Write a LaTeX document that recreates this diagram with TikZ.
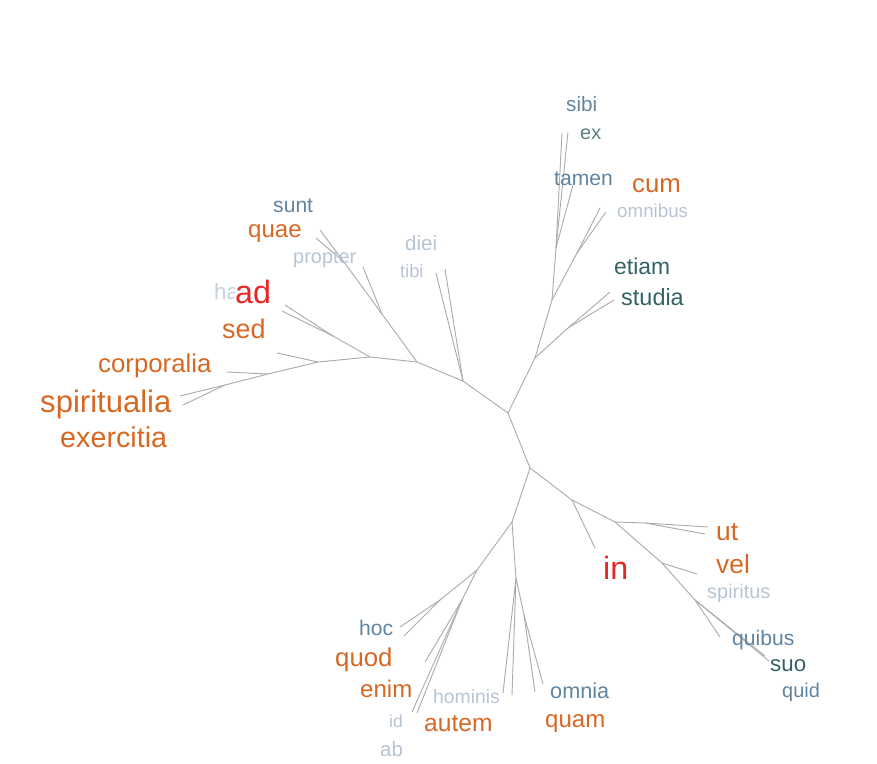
\documentclass[tikz,border=0pt]{standalone}
\usepackage{fontspec}
\setmainfont{Liberation Sans}
\definecolor{wordorange}{RGB}{214,104,36}
\definecolor{wordred}{RGB}{232,38,38}
\definecolor{wordblue}{RGB}{96,132,160}
\definecolor{wordteal}{RGB}{52,98,100}
\definecolor{wordpale}{RGB}{182,196,212}
\definecolor{branch}{RGB}{172,172,172}
\newcommand\wsize[1]{\fontsize{#1pt}{#1pt}\selectfont}
\tikzset{
  word/.style={anchor=base west, inner sep=0pt},
  twig/.style={draw=branch, line width=0.8pt}
}
\begin{document}
\begin{tikzpicture}[x=0.03cm,y=-0.03cm]
\useasboundingbox (0,0) rectangle (877,764);
\coordinate (c1) at (508,413);
\coordinate (c2) at (530,468);
\coordinate (a1) at (463,381);
\coordinate (a2) at (417,362);
\coordinate (a3) at (370,357);
\coordinate (a4) at (318,362);
\coordinate (a5) at (268,374);
\coordinate (a6) at (225,385);
\coordinate (b1) at (382,314);
\coordinate (b2) at (344,262);
\coordinate (b3) at (333,336);
\coordinate (d1) at (535,358);
\coordinate (d2) at (552,300);
\coordinate (d3) at (556,248);
\coordinate (d4) at (568,328);
\coordinate (d5) at (577,253);
\coordinate (e1) at (572,500);
\coordinate (e2) at (615,522);
\coordinate (e3) at (662,563);
\coordinate (e4) at (695,600);
\coordinate (e5) at (645,523);
\coordinate (f1) at (512,522);
\coordinate (f2) at (477,570);
\coordinate (f3) at (462,600);
\coordinate (f4) at (440,600);
\coordinate (f5) at (516,578);
\coordinate (f6) at (524,615);
\coordinate (sp1) at (180,396);
\coordinate (sp2) at (183,405);
\coordinate (co1) at (227,372);
\coordinate (se1) at (277,353);
\coordinate (ad1) at (285,305);
\coordinate (ad2) at (282,311);
\coordinate (pr1) at (363,267);
\coordinate (qu1) at (320,230);
\coordinate (qu2) at (316,238);
\coordinate (ti1) at (436,273);
\coordinate (ti2) at (445,269);
\coordinate (st1) at (610,292);
\coordinate (st2) at (614,300);
\coordinate (om1) at (600,208);
\coordinate (om2) at (606,212);
\coordinate (ta1) at (573,185);
\coordinate (si1) at (562,133);
\coordinate (si2) at (568,132);
\coordinate (in1) at (595,548);
\coordinate (ut1) at (708,527);
\coordinate (ut2) at (705,534);
\coordinate (sr1) at (697,574);
\coordinate (qb1) at (720,637);
\coordinate (su1) at (765,656);
\coordinate (su2) at (769,661);
\coordinate (ho1) at (400,627);
\coordinate (ho2) at (404,636);
\coordinate (en1) at (425,662);
\coordinate (id1) at (412,712);
\coordinate (id2) at (417,713);
\coordinate (hm1) at (503,693);
\coordinate (hm2) at (512,695);
\coordinate (oa1) at (535,692);
\coordinate (oa2) at (543,684);
\draw [twig](c1) -- (c2);
\draw [twig](c1) -- (a1) -- (a2) -- (a3) -- (a4) -- (a5) -- (a6);
\draw [twig](a6) -- (sp1);
\draw [twig](a6) -- (sp2);
\draw [twig](a5) -- (co1);
\draw [twig](a4) -- (se1);
\draw [twig](a3) -- (b3) -- (ad1);
\draw [twig](b3) -- (ad2);
\draw [twig](a2) -- (b1) -- (b2) -- (qu1);
\draw [twig](b2) -- (qu2);
\draw [twig](b1) -- (pr1);
\draw [twig](a1) -- (ti1);
\draw [twig](a1) -- (ti2);
\draw [twig](c1) -- (d1) -- (d2) -- (d3) -- (si1);
\draw [twig](d3) -- (si2);
\draw [twig](d3) -- (ta1);
\draw [twig](d2) -- (d5) -- (om1);
\draw [twig](d5) -- (om2);
\draw [twig](d1) -- (d4) -- (st1);
\draw [twig](d4) -- (st2);
\draw [twig](c2) -- (e1) -- (in1);
\draw [twig](e1) -- (e2) -- (e5) -- (ut1);
\draw [twig](e5) -- (ut2);
\draw [twig](e2) -- (e3) -- (sr1);
\draw [twig](e3) -- (e4) -- (qb1);
\draw [twig](e4) -- (su1);
\draw [twig](e4) -- (su2);
\draw [twig](c2) -- (f1) -- (f2) -- (f4) -- (ho1);
\draw [twig](f4) -- (ho2);
\draw [twig](f2) -- (f3) -- (en1);
\draw [twig](f3) -- (id1);
\draw [twig](f3) -- (id2);
\draw [twig](f1) -- (f5) -- (hm1);
\draw [twig](f5) -- (hm2);
\draw [twig](f5) -- (f6) -- (oa1);
\draw [twig](f6) -- (oa2);
\node [word, wordblue, font=\wsize{17.7}] (sibi) at (566,112) {sibi};
\node [word, wordteal!80, font=\wsize{17}] (ex) at (580,140) {ex};
\node [word, wordblue, font=\wsize{18}] (tamen) at (554,186) {tamen};
\node [word, wordorange, font=\wsize{22}] (cum) at (632,193) {cum};
\node [word, wordpale, font=\wsize{16}] (omnibus) at (617,218) {omnibus};
\node [word, wordteal, font=\wsize{19.5}] (etiam) at (614,274) {etiam};
\node [word, wordteal, font=\wsize{20}] (studia) at (621,305) {studia};
\node [word, wordblue, font=\wsize{18}] (sunt) at (273,212) {sunt};
\node [word, wordorange, font=\wsize{20.5}] (quae) at (248,237) {quae};
\node [word, wordpale, font=\wsize{17}] (propter) at (293,263) {propter};
\node [word, wordpale, font=\wsize{17.5}] (diei) at (405,250) {diei};
\node [word, wordpale, font=\wsize{15.5}] (tibi) at (400,277) {tibi};
\node [word, wordpale!80, font=\wsize{19}] (haec) at (214,299) {haec};
\node [word, wordred, fill=white, font=\wsize{27.5}] (ad) at (235,303) {ad};
\node [word, wordorange, font=\wsize{23}] (sed) at (222,338) {sed};
\node [word, wordorange, font=\wsize{22}] (corporalia) at (98,372) {corporalia};
\node [word, wordorange, font=\wsize{26.5}] (spiritualia) at (40,412) {spiritualia};
\node [word, wordorange, font=\wsize{24.5}] (exercitia) at (60,447) {exercitia};
\node [word, wordred, font=\wsize{27.5}] (in) at (603,579) {in};
\node [word, wordorange, font=\wsize{22.5}] (ut) at (716,540) {ut};
\node [word, wordorange, font=\wsize{22.5}] (vel) at (716,573) {vel};
\node [word, wordpale, font=\wsize{17}] (spiritus) at (707,598) {spiritus};
\node [word, wordblue, font=\wsize{18}] (quibus) at (732,645) {quibus};
\node [word, wordteal, font=\wsize{19}] (suo) at (770,671) {suo};
\node [word, wordblue, font=\wsize{17}] (quid) at (782,697) {quid};
\node [word, wordblue, font=\wsize{18.5}] (omnia) at (550,698) {omnia};
\node [word, wordorange, font=\wsize{20.5}] (quam) at (545,727) {quam};
\node [word, wordpale, font=\wsize{16.5}] (hominis) at (433,703) {hominis};
\node [word, wordorange, font=\wsize{21}] (autem) at (424,731) {autem};
\node [word, wordpale, font=\wsize{15}] (id) at (389,727) {id};
\node [word, wordpale, font=\wsize{17.5}] (ab) at (380,756) {ab};
\node [word, wordblue, font=\wsize{18}] (hoc) at (359,635) {hoc};
\node [word, wordorange, font=\wsize{22}] (quod) at (335,666) {quod};
\node [word, wordorange, font=\wsize{20.5}] (enim) at (360,697) {enim};
\end{tikzpicture}
\end{document}
